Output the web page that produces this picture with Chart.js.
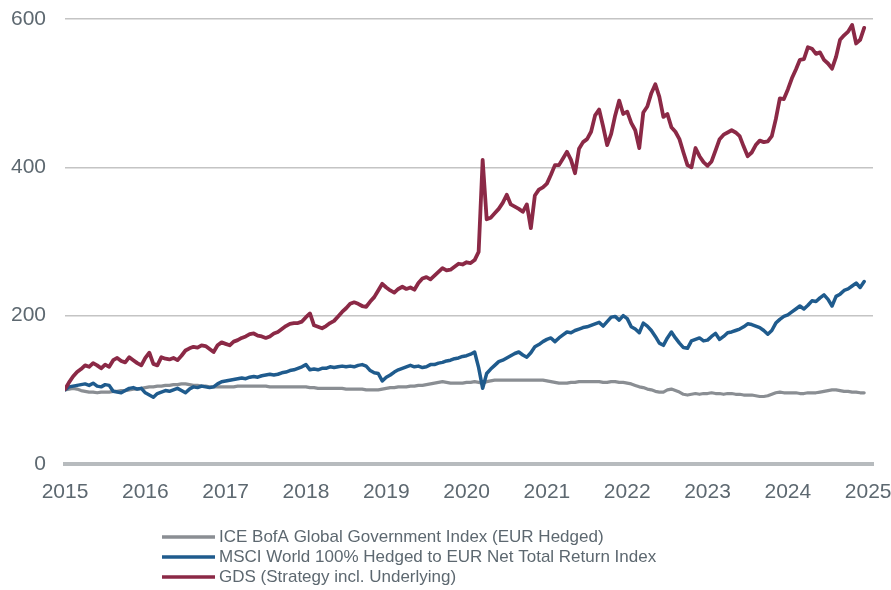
<!DOCTYPE html>
<html>
<head>
<meta charset="utf-8">
<script src="https://cdn.jsdelivr.net/npm/chart.js@4.4.1/dist/chart.umd.min.js"></script>
<style>
  html, body { margin: 0; padding: 0; background: #fff; }
  #wrap { width: 891px; height: 590px; position: relative; }
</style>
</head>
<body>
<div id="wrap"><canvas id="perfChart"></canvas></div>
<script>
// values, one row per year, 20 points a year (2015.00 .. 2024.95)
const seriesLabels = [
    'ICE BofA Global Government Index (EUR Hedged)',
    'MSCI World 100% Hedged to EUR Net Total Return Index',
    'GDS (Strategy incl. Underlying)'
];

const iceValues = [
    100, 101, 102, 101, 99, 98, 97, 97, 96, 97, 97, 97, 98, 98, 99, 99, 100, 101, 101, 102,
    103, 104, 104, 105, 105, 106, 106, 107, 107, 108, 108, 107, 106, 106, 105, 105, 104, 104, 104, 104,
    104, 104, 104, 105, 105, 105, 105, 105, 105, 105, 105, 104, 104, 104, 104, 104, 104, 104, 104, 104,
    104, 103, 103, 102, 102, 102, 102, 102, 102, 102, 101, 101, 101, 101, 101, 100, 100, 100, 100, 101,
    102, 103, 103, 104, 104, 104, 105, 105, 106, 106, 107, 108, 109, 110, 111, 110, 109, 109, 109, 109,
    110, 110, 111, 110, 109, 111, 112, 113, 113, 113, 113, 113, 113, 113, 113, 113, 113, 113, 113, 113,
    112, 111, 110, 109, 109, 109, 110, 110, 111, 111, 111, 111, 111, 111, 110, 110, 111, 111, 110, 110,
    109, 108, 106, 104, 103, 101, 100, 98, 97, 97, 100, 101, 99, 97, 94, 93, 94, 95, 94, 95,
    95, 96, 95, 95, 94, 95, 95, 94, 94, 93, 93, 93, 92, 91, 91, 92, 94, 96, 97, 96,
    96, 96, 96, 95, 95, 96, 96, 96, 97, 98, 99, 100, 100, 99, 98, 98, 97, 97, 96, 96
];

const msciValues = [
    100, 104, 105, 106, 107, 108, 106, 109, 105, 104, 107, 106, 98, 97, 96, 99, 102, 103, 101, 102,
    96, 93, 90, 95, 97, 99, 98, 100, 102, 99, 96, 101, 104, 103, 105, 104, 103, 104, 108, 111,
    112, 113, 114, 115, 116, 115, 117, 118, 117, 119, 120, 121, 120, 121, 123, 124, 126, 127, 129, 131,
    134, 127, 128, 127, 129, 129, 131, 130, 131, 132, 131, 132, 131, 133, 134, 132, 126, 123, 122, 112,
    117, 120, 124, 127, 129, 131, 133, 131, 132, 130, 131, 134, 134, 136, 137, 139, 140, 142, 143, 145,
    146, 148, 151, 130, 102, 122, 128, 133, 138, 140, 143, 146, 149, 151, 147, 144, 150, 158, 161, 165,
    168, 170, 165, 170, 174, 178, 177, 180, 182, 184, 185, 187, 189, 191, 186, 192, 198, 199, 194, 200,
    196, 185, 182, 177, 190, 186, 180, 172, 163, 160, 170, 178, 170, 163, 157, 156, 166, 168, 170, 166,
    167, 172, 176, 168, 172, 177, 178, 180, 182, 185, 189, 188, 186, 184, 180, 175, 180, 190, 195, 199,
    201, 205, 209, 213, 209, 214, 220, 219, 224, 228, 222, 213, 226, 229, 234, 236, 240, 244, 238, 246
];

const gdsValues = [
    101, 110, 118, 124, 128, 133, 131, 136, 133, 129, 134, 131, 140, 143, 139, 137, 144, 140, 136, 133,
    143, 150, 135, 133, 144, 142, 141, 143, 140, 146, 153, 156, 158, 157, 160, 159, 155, 151, 160, 164,
    162, 160, 165, 167, 170, 172, 175, 176, 173, 172, 170, 172, 176, 178, 182, 186, 189, 190, 190, 192,
    198, 203, 187, 185, 183, 186, 190, 193, 199, 205, 210, 216, 218, 216, 213, 212, 219, 225, 234, 243,
    238, 234, 231, 236, 239, 236, 238, 235, 244, 250, 252, 249, 254, 259, 264, 261, 262, 266, 270, 269,
    272, 271, 275, 286, 410, 330, 332, 338, 344, 352, 363, 350, 347, 344, 340, 350, 318, 362, 370, 373,
    378, 390, 403, 403, 412, 421, 410, 392, 425, 434, 438, 448, 470, 478, 455, 430, 445, 470, 490, 472,
    475, 460, 450, 426, 474, 482, 500, 512, 495, 468, 472, 454, 448, 438, 420, 403, 400, 426, 415, 407,
    402, 408, 423, 438, 444, 447, 450, 447, 442, 428, 415, 420, 430, 436, 434, 435, 442, 465, 493, 492,
    505, 520, 532, 545, 546, 562, 560, 553, 555, 545, 540, 533, 549, 572, 578, 583, 592, 567, 572, 588
];

const yearTicks = [2015, 2016, 2017, 2018, 2019, 2020, 2021, 2022, 2023, 2024, 2025];
const valueTicks = [0, 200, 400, 600];

const colors = ['#8a8e93', '#1f5b8d', '#8b2946'];
const textColor = '#5d6870';

const dates = gdsValues.map((v, i) => 2015 + i / 20);
const toPoints = vals => vals.map((v, i) => ({ x: dates[i], y: v }));

// stacked legend under the plot, left-aligned like the original
const stackLegend = {
    id: 'stackLegend',
    afterDraw(chart) {
        const ctx = chart.ctx;
        ctx.save();
        ctx.font = '17px "Liberation Sans", Arial, sans-serif';
        ctx.textBaseline = 'middle';
        ctx.fillStyle = textColor;
        chart.data.datasets.forEach((ds, i) => {
            const y = 537 + i * 20;
            ctx.strokeStyle = ds.borderColor;
            ctx.lineWidth = 3.5;
            ctx.beginPath();
            ctx.moveTo(162, y);
            ctx.lineTo(215, y);
            ctx.stroke();
            ctx.fillText(ds.label, 219, y);
        });
        ctx.restore();
    }
};

new Chart(document.getElementById('perfChart'), {
    type: 'line',
    data: {
        datasets: [
            { label: seriesLabels[0], data: toPoints(iceValues), borderColor: colors[0], borderWidth: 3.2, order: 2 },
            { label: seriesLabels[1], data: toPoints(msciValues), borderColor: colors[1], borderWidth: 3.5, order: 1 },
            { label: seriesLabels[2], data: toPoints(gdsValues), borderColor: colors[2], borderWidth: 3.8, order: 0 }
        ]
    },
    options: {
        responsive: true,
        maintainAspectRatio: false,
        animation: false,
        elements: { point: { radius: 0 }, line: { tension: 0, borderJoinStyle: 'round', borderCapStyle: 'round' } },
        layout: { padding: { left: 11, right: 18, top: 19, bottom: 89 } },
        plugins: {
            legend: { display: false },
            tooltip: { enabled: false }
        },
        scales: {
            x: {
                type: 'linear',
                min: 2015,
                max: 2025.06,
                afterBuildTicks: axis => { axis.ticks = yearTicks.map(v => ({ value: v })); },
                afterFit: axis => {
                    axis.height = 37;
                    axis.paddingLeft = 0;
                    axis.paddingRight = 0;
                },
                ticks: {
                    color: textColor,
                    font: { family: '"Liberation Sans", Arial, sans-serif', size: 21 },
                    padding: 16,
                    maxRotation: 0,
                    callback: v => String(v)
                },
                grid: { display: false, drawTicks: false },
                border: { display: true, color: '#b7bbbe', width: 4 }
            },
            y: {
                min: 0,
                max: 600,
                afterBuildTicks: axis => { axis.ticks = valueTicks.map(v => ({ value: v })); },
                afterFit: axis => {
                    axis.width = 54;
                    axis.paddingTop = 0;
                    axis.paddingBottom = 0;
                },
                ticks: {
                    color: textColor,
                    font: { family: '"Liberation Sans", Arial, sans-serif', size: 21 },
                    padding: 19
                },
                grid: { color: '#c4c4c4', lineWidth: 1.5, drawTicks: false },
                border: { display: false }
            }
        }
    },
    plugins: [stackLegend]
});
</script>
</body>
</html>
